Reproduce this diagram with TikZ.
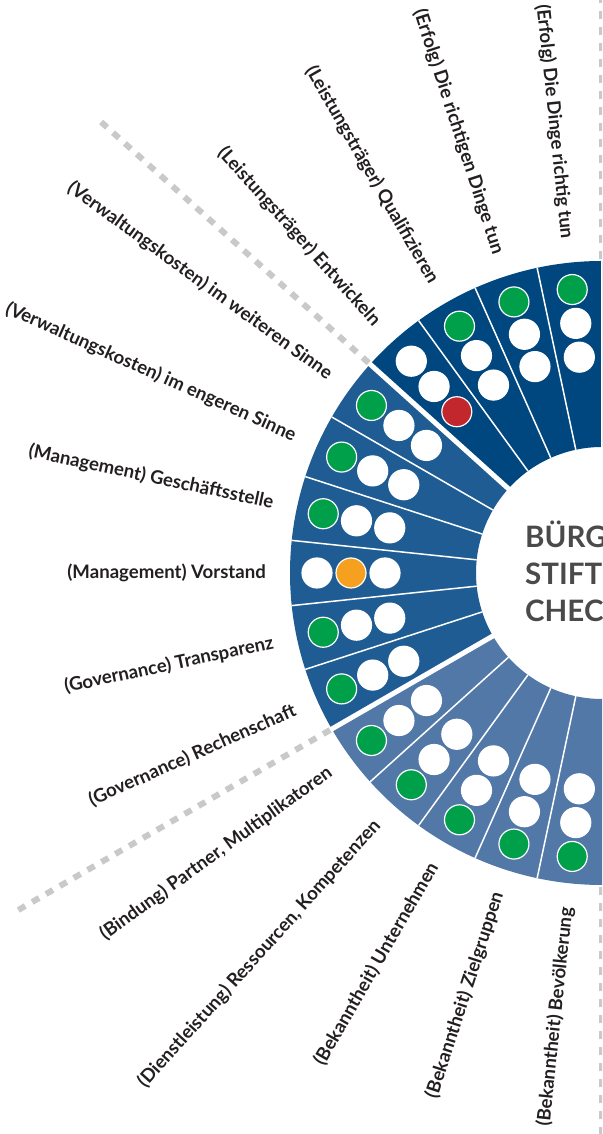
\documentclass[tikz,border=0pt]{standalone}
\usepackage{fontspec}
\setmainfont{Lato}
\usepackage{tikz}
\usepackage{xcolor}
\usetikzlibrary{calc}

\definecolor{erfolgblue}{HTML}{00467F}
\definecolor{mgmtblue}{HTML}{1F5C93}
\definecolor{wirkblue}{HTML}{5278A8}
\definecolor{okgreen}{HTML}{00A04B}
\definecolor{midorange}{HTML}{F6A01F}
\definecolor{badred}{HTML}{C1272D}
\definecolor{guidegray}{HTML}{C8C9CA}
\definecolor{titlegray}{HTML}{4A4A4B}
\definecolor{labelblack}{HTML}{231F20}

\begin{document}
\begin{tikzpicture}[x=1pt, y=1pt,
    labeltext/.style={anchor=east, inner sep=0pt, text=labelblack, font=\fontsize{18.6}{21}\selectfont\bfseries},
    dot/.style={circle, draw=white, line width=1.2pt, minimum size=30pt, inner sep=0pt},
    guide/.style={guidegray, line width=6pt, dash pattern=on 8pt off 8pt},
    titletext/.style={anchor=base west, inner sep=0pt, text=titlegray, font=\fontsize{29.5}{35}\selectfont\bfseries}]
    \useasboundingbox (0,0) rectangle (602,1134);
    \clip (0,0) rectangle (602,1134);
    \begin{scope}[shift={(602,561)}]
    % one wedge per criterion: centre angle / fill / outer, middle, inner dot / label
    \foreach \ang/\col/\da/\db/\dc/\txt [count=\i,
        evaluate=\ang as \lo using \ang-6,
        evaluate=\ang as \hi using \ang+6,
        evaluate=\ang as \rot using \ang-180] in {
        96/erfolgblue/okgreen/white/white/{(Erfolg) Die Dinge richtig tun},
        108/erfolgblue/okgreen/white/white/{(Erfolg) Die richtigen Dinge tun},
        120/erfolgblue/okgreen/white/white/{(Leistungsträger) Qualifizieren},
        132/erfolgblue/white/white/badred/{(Leistungsträger) Entwickeln},
        144/mgmtblue/okgreen/white/white/{(Verwaltungskosten) im weiteren Sinne},
        156/mgmtblue/okgreen/white/white/{(Verwaltungskosten) im engeren Sinne},
        168/mgmtblue/okgreen/white/white/{(Management) Geschäftsstelle},
        180/mgmtblue/white/midorange/white/{(Management) Vorstand},
        192/mgmtblue/okgreen/white/white/{(Governance) Transparenz},
        204/mgmtblue/okgreen/white/white/{(Governance) Rechenschaft},
        216/wirkblue/okgreen/white/white/{(Bindung) Partner, Multiplikatoren},
        228/wirkblue/okgreen/white/white/{(Dienstleistung) Ressourcen, Kompetenzen},
        240/wirkblue/okgreen/white/white/{(Bekanntheit) Unternehmen},
        252/wirkblue/okgreen/white/white/{(Bekanntheit) Zielgruppen},
        264/wirkblue/okgreen/white/white/{(Bekanntheit) Bevölkerung}} {
        \fill[\col] (\lo:126) arc[start angle=\lo, end angle=\hi, radius=126]
            -- (\hi:312) arc[start angle=\hi, end angle=\lo, radius=312] -- cycle;
        \draw[white, line width=1.5pt] (\lo:126) -- (\lo:312);
        \node[dot, fill=\da] (dot\i a) at (\ang:285) {};
        \node[dot, fill=\db] (dot\i b) at (\ang:251) {};
        \node[dot, fill=\dc] (dot\i c) at (\ang:217) {};
        \node[labeltext, rotate=\rot] (lab\i) at (\ang:336) {\txt};
    }
    % gaps between the three groups
    \draw[white, line width=5pt] (138:120) -- (138:318);
    \draw[white, line width=5pt] (210:120) -- (210:318);
    % dashed guides
    \draw[guide] (138:314) -- (138:675);
    \draw[guide] (210:314) -- (210:675);
    \draw[guide] (90:314) -- (90:580);
    \draw[guide] (270:314) -- (270:580);
    % centre title
    \node[titletext] (title1) at (-77,25) {BÜRG};
    \node[titletext] (title2) at (-77,-12) {STIFT};
    \node[titletext] (title3) at (-77,-49) {CHEC};
    \end{scope}
\end{tikzpicture}
\end{document}
